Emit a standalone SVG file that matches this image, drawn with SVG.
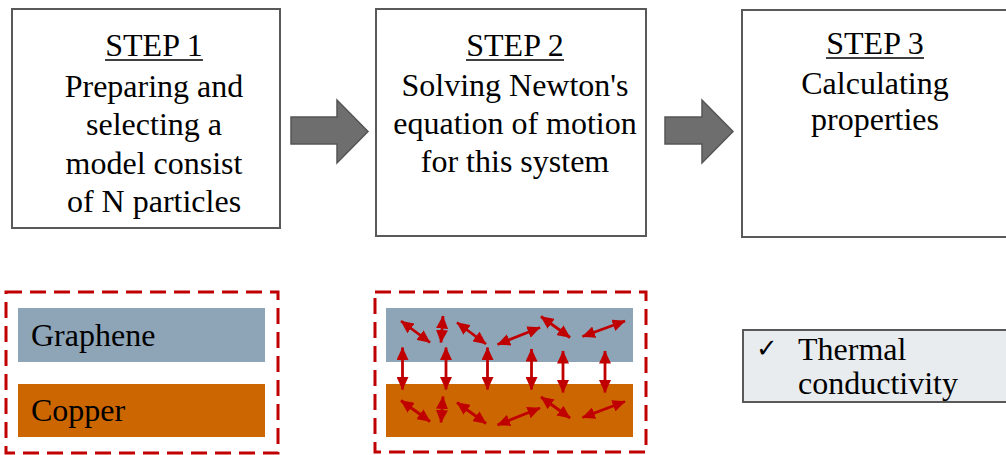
<svg xmlns="http://www.w3.org/2000/svg" width="1006" height="455" viewBox="0 0 1006 455">
  <defs>
    <marker id="rh" markerUnits="userSpaceOnUse" markerWidth="14" markerHeight="12" refX="12.5" refY="6" orient="auto-start-reverse">
      <path d="M0,0 L13,6 L0,12 z" fill="#C00000"/>
    </marker>
  </defs>
  <style>
    .step { fill: #ffffff; stroke: #595959; stroke-width: 2; }
    .txt { font-family: 'Liberation Serif', 'Times New Roman', serif; font-size: 32px; fill: #000000; }
    .mid { text-anchor: middle; }
    .ul { stroke: #000000; stroke-width: 1.5; }
    .big { fill: #6E6E6E; stroke: #555555; stroke-width: 1.5; }
    .dash { fill: none; stroke: #C00000; stroke-width: 3; stroke-dasharray: 16 8; }
    .gr { fill: #8EA4B7; }
    .cu { fill: #CC6600; }
    .ra { stroke: #C00000; stroke-width: 2.8; marker-start: url(#rh); marker-end: url(#rh); }
  </style>

  <g id="step1">
    <rect class="step" x="12" y="9" width="268" height="219"/>
    <text class="txt mid" x="154" y="56">STEP 1</text>
    <line class="ul" x1="105" y1="60" x2="203" y2="60"/>
    <text class="txt mid" x="154" y="97">Preparing and</text>
    <text class="txt mid" x="154" y="135">selecting a</text>
    <text class="txt mid" x="154" y="174">model consist</text>
    <text class="txt mid" x="154" y="212">of N particles</text>
  </g>

  <g id="step2">
    <rect class="step" x="376" y="9" width="270" height="227"/>
    <text class="txt mid" x="515" y="56">STEP 2</text>
    <line class="ul" x1="466" y1="60" x2="564" y2="60"/>
    <text class="txt mid" x="515" y="96">Solving Newton's</text>
    <text class="txt mid" x="515" y="134">equation of motion</text>
    <text class="txt mid" x="515" y="172">for this system</text>
  </g>

  <g id="step3">
    <rect class="step" x="742" y="10" width="280" height="227"/>
    <text class="txt mid" x="875" y="54">STEP 3</text>
    <line class="ul" x1="826" y1="58" x2="924" y2="58"/>
    <text class="txt mid" x="875" y="94">Calculating</text>
    <text class="txt mid" x="875" y="130">properties</text>
  </g>

  <g id="connectors">
    <polygon class="big" points="291,117 337,117 337,100 368,131.5 337,163 337,144 291,144"/>
    <polygon class="big" points="665,117 702,117 702,100 733,131.5 702,163 702,144 665,144"/>
  </g>

  <g id="model">
    <rect class="dash" x="6" y="292" width="272" height="161"/>
    <rect class="gr" x="18" y="308" width="247" height="54"/>
    <rect class="cu" x="18" y="384" width="247" height="53"/>
    <text class="txt" x="31" y="346">Graphene</text>
    <text class="txt" x="31" y="421">Copper</text>
  </g>

  <g id="simulation">
    <rect class="dash" x="375" y="292" width="271" height="160"/>
    <rect class="gr" x="386" y="308" width="247" height="54"/>
    <rect class="cu" x="386" y="384" width="247" height="53"/>
    <g id="particle-arrows">
      <line class="ra" x1="401" y1="321" x2="430" y2="342.5"/>
      <line class="ra" x1="443" y1="316" x2="441" y2="342.5"/>
      <line class="ra" x1="457" y1="322.5" x2="486" y2="344"/>
      <line class="ra" x1="497.5" y1="344.5" x2="540" y2="327.5"/>
      <line class="ra" x1="541" y1="316.5" x2="570" y2="337.5"/>
      <line class="ra" x1="582.5" y1="336.5" x2="625" y2="321"/>
      <line class="ra" x1="401" y1="400.5" x2="430" y2="421.5"/>
      <line class="ra" x1="443" y1="396.5" x2="441" y2="422.5"/>
      <line class="ra" x1="457" y1="402.5" x2="486" y2="423.5"/>
      <line class="ra" x1="497.5" y1="425" x2="540" y2="408"/>
      <line class="ra" x1="541" y1="397" x2="570" y2="418"/>
      <line class="ra" x1="582.5" y1="417.5" x2="625" y2="401.5"/>
      <line class="ra" x1="402.5" y1="347.5" x2="402.5" y2="389.5"/>
      <line class="ra" x1="446" y1="347.5" x2="446" y2="389.5"/>
      <line class="ra" x1="487.5" y1="347.5" x2="487.5" y2="389.5"/>
      <line class="ra" x1="531.5" y1="349" x2="531.5" y2="389.5"/>
      <line class="ra" x1="563" y1="351" x2="563" y2="392.5"/>
      <line class="ra" x1="605" y1="351" x2="605" y2="392.5"/>
    </g>
  </g>

  <g id="result">
    <rect x="743" y="330" width="280" height="72" fill="#E8ECEF" stroke="#595959" stroke-width="2"/>
    <text x="756" y="357" font-family="'DejaVu Sans', sans-serif" font-size="26" fill="#000000">✓</text>
    <text class="txt" x="798" y="360">Thermal</text>
    <text class="txt" x="798" y="394">conductivity</text>
  </g>
</svg>
